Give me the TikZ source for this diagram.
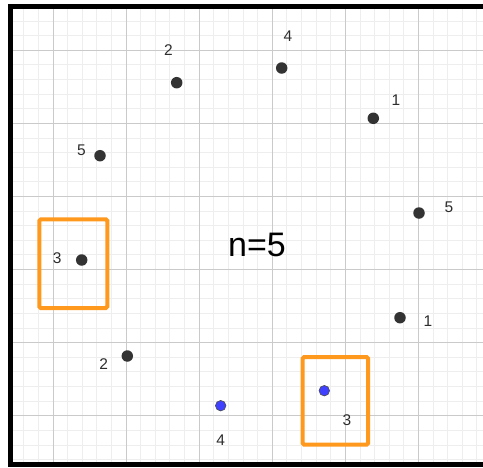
\documentclass[tikz,border=0pt]{standalone}
\usepackage{fontspec}
\setmainfont{Liberation Sans}
\definecolor{minorgrid}{RGB}{238,238,238}
\definecolor{majorgrid}{RGB}{202,202,202}
\definecolor{dotgray}{RGB}{51,51,51}
\definecolor{labgray}{RGB}{45,45,45}
\definecolor{ggborange}{RGB}{255,153,30}
\definecolor{ggbblue}{RGB}{64,64,255}
\tikzset{
  pt/.style={circle, fill=dotgray, inner sep=0pt, minimum size=11.5pt},
  bluept/.style={circle, fill=ggbblue, draw=black!70, line width=0.6pt, inner sep=0pt, minimum size=10.5pt},
  lab/.style={text=labgray, inner sep=0pt, font=\fontsize{15.5}{15.5}\selectfont},
  selbox/.style={draw=ggborange, line width=4pt, rounded corners=1.5pt},
  minorline/.style={draw=minorgrid, line width=1pt},
  majorline/.style={draw=majorgrid, line width=1pt}
}
\begin{document}
\begin{tikzpicture}[x=1pt, y=-1pt]
\useasboundingbox (0,0) rectangle (483,467);
\fill[white] (0,0) rectangle (483,467);
% grid
\foreach \k in {-2,...,29} {
  \pgfmathsetmacro{\xx}{53+14.62*\k}
  \draw[minorline] (\xx,9) -- (\xx,462);
}
\foreach \k in {-2,...,28} {
  \pgfmathsetmacro{\yy}{50.3+14.62*\k}
  \draw[minorline] (13,\yy) -- (483,\yy);
}
\foreach \k in {0,...,5} {
  \pgfmathsetmacro{\xx}{53+73.1*\k}
  \draw[majorline] (\xx,9) -- (\xx,462);
  \pgfmathsetmacro{\yy}{50.3+73.1*\k}
  \draw[majorline] (13,\yy) -- (483,\yy);
}
% frame
\fill[black] (8,4) rectangle (13,467);
\fill[black] (8,4) rectangle (483,9);
\fill[black] (8,462) rectangle (483,466.5);
% boxes
\draw[selbox] (39.3,219.3) rectangle (107.3,308);
\draw[selbox] (302.7,357) rectangle (368,444.7);
% points
\node[pt] (p1) at (176.7,82.7) {};
\node[lab] (l1) at (168.5,50.5) {2};
\node[pt] (p2) at (281.7,68) {};
\node[lab] (l2) at (288,36.5) {4};
\node[pt] (p3) at (373.3,118.3) {};
\node[lab] (l3) at (396,100.5) {1};
\node[pt] (p4) at (100,155.7) {};
\node[lab] (l4) at (81.5,150.7) {5};
\node[pt] (p5) at (419,213) {};
\node[lab] (l5) at (449,207.5) {5};
\node[pt] (p6) at (81.7,260) {};
\node[lab] (l6) at (57.3,258.3) {3};
\node[pt] (p7) at (400,317.7) {};
\node[lab] (l7) at (428,321) {1};
\node[pt] (p8) at (127.3,356) {};
\node[lab] (l8) at (103.7,364) {2};
\node[bluept] (p9) at (324.3,390.7) {};
\node[lab] (l9) at (347,420) {3};
\node[bluept] (p10) at (220.7,405.7) {};
\node[lab] (l10) at (220.7,440.5) {4};
% title
\node[inner sep=0pt, font=\fontsize{34}{34}\selectfont] (n) at (257,245) {n=5};
\end{tikzpicture}
\end{document}
